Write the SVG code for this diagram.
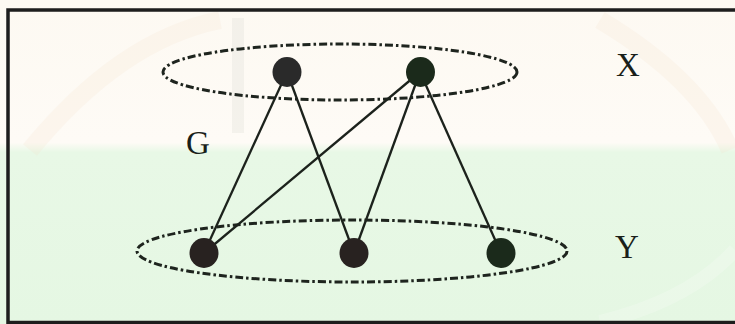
<svg xmlns="http://www.w3.org/2000/svg" width="735" height="324" viewBox="0 0 735 324">
  <style>
    .edge { stroke: #1c221c; stroke-width: 2.3; fill: none; }
    .set { fill: none; stroke: #1e241e; stroke-width: 3; stroke-dasharray: 8 3 2.5 3; }
    .vertex { stroke: none; }
    .lbl { font-family: "Liberation Serif", "Times New Roman", serif; font-size: 33px; fill: #1a1f1a; }
  </style>
  <defs>
    <linearGradient id="bg" x1="0" y1="0" x2="0" y2="1">
      <stop offset="0" stop-color="#fdf9f2"/>
      <stop offset="0.44" stop-color="#fefbf6"/>
      <stop offset="0.47" stop-color="#e8f8e6"/>
      <stop offset="1" stop-color="#e5f7e3"/>
    </linearGradient>
  </defs>

  <!-- page background -->
  <rect x="0" y="0" width="735" height="324" fill="url(#bg)"/>
  <!-- faint background marks -->
  <g opacity="0.2">
    <rect x="232" y="18" width="12" height="115" fill="#d0d0c8"/>
    <path d="M30 150 Q 120 40 220 20" fill="none" stroke="#f6e2cc" stroke-width="18"/>
    <path d="M600 20 Q 700 80 730 150" fill="none" stroke="#f6e2cc" stroke-width="18"/>
    <path d="M600 322 Q 690 300 735 250" fill="none" stroke="#ffffff" stroke-width="14"/>
  </g>

  <!-- frame -->
  <rect x="8" y="10" width="740" height="312.5" fill="none" stroke="#1d1d1d" stroke-width="3.5"/>

  <!-- vertex sets -->
  <ellipse class="set" cx="340" cy="72" rx="177" ry="28"/>
  <ellipse class="set" cx="352" cy="251" rx="215" ry="31"/>

  <!-- connectors -->
  <g id="edges">
    <line class="edge" x1="287" y1="72" x2="204" y2="253"/>
    <line class="edge" x1="287" y1="72" x2="354" y2="253"/>
    <line class="edge" x1="420" y1="72" x2="204" y2="253"/>
    <line class="edge" x1="420" y1="72" x2="354" y2="253"/>
    <line class="edge" x1="420" y1="72" x2="501" y2="253"/>
  </g>

  <!-- nodes -->
  <g id="x1"><ellipse class="vertex" cx="287" cy="72" rx="14.5" ry="15" fill="#2a2a2a"/></g>
  <g id="x2"><ellipse class="vertex" cx="420.5" cy="72" rx="14.5" ry="15" fill="#1b2a1b"/></g>
  <g id="y1"><ellipse class="vertex" cx="204" cy="253" rx="14.5" ry="15" fill="#282220"/></g>
  <g id="y2"><ellipse class="vertex" cx="354" cy="253" rx="14.5" ry="15" fill="#282220"/></g>
  <g id="y3"><ellipse class="vertex" cx="501" cy="253" rx="14.5" ry="15" fill="#1b2a1b"/></g>

  <!-- labels -->
  <text class="lbl" x="628" y="76" text-anchor="middle">X</text>
  <text class="lbl" x="627" y="258" text-anchor="middle">Y</text>
  <text class="lbl" x="198" y="154" text-anchor="middle">G</text>
</svg>
